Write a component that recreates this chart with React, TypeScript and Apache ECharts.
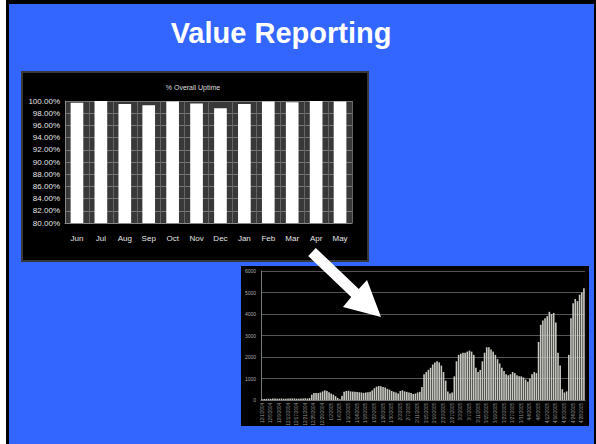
import React, { useEffect, useRef } from "react";
import * as echarts from "echarts";

const pageTitle = "Value Reporting";
const uptimeTitle = "% Overall Uptime";
const uptimeMonths = ["Jun", "Jul", "Aug", "Sep", "Oct", "Nov", "Dec", "Jan", "Feb", "Mar", "Apr", "May"];
const uptimeValues = [99.7, 100, 99.5, 99.3, 99.9, 99.6, 98.8, 99.5, 99.9, 99.8, 100, 99.9];
const uptimeMin = 80;
const uptimeMax = 100;
const uptimeStep = 2;

const volumeMin = 0;
const volumeMax = 6000;
const volumeStep = 1000;
const volumeValues = [
  40, 50, 55, 60, 55, 65, 70, 60, 65, 70, 60, 55, 65, 70, 75, 70, 65, 60, 70, 75, 80, 70, 90,
  250, 320, 330, 320, 350, 400, 450, 420, 360, 300, 250, 180, 100,
  40,
  200, 380, 420, 430, 400, 390, 380, 370, 360, 350, 330, 350, 360, 380,
  450, 550, 620, 650, 640, 600, 580, 520,
  480, 420, 380, 350, 300, 420, 450, 400, 380, 350, 330, 280, 300, 350, 380,
  600, 1200, 1300, 1400, 1500, 1650, 1750, 1800, 1750, 1600, 1300, 900, 400,
  300, 350, 1100,
  1800, 2100, 2150, 2200, 2200, 2250, 2300, 2250, 2100,
  1500, 1300, 1400, 1800, 2200, 2450,
  2450, 2350, 2250, 2100, 1900, 1700, 1500, 1350,
  1200, 1150, 1200, 1300, 1250, 1150, 1100, 1100, 1050, 950, 850,
  1000, 1200, 1300, 1250, 2700,
  3500, 3700, 3800, 3900, 4100, 4000, 4050, 3600,
  2200, 1600, 500, 350,
  400, 2100, 3800, 4500, 4700, 4600, 4900, 5000, 5200,
];
// unreadable day labels under the second chart
const volumeStart = new Date(2004, 11, 1);
const volumeLabels = volumeValues.map((_, i) => {
  const d = new Date(volumeStart.getTime() + i * 86400000);
  return `${d.getMonth() + 1}/${d.getDate()}/${d.getFullYear()}`;
});

const FONT = "'Liberation Sans', Arial, sans-serif";

export default function App() {
  const ref = useRef<HTMLDivElement>(null);
  useEffect(() => {
    if (!ref.current) return;
    const chart = echarts.init(ref.current, undefined, { renderer: "svg" });
    const option: any = {
      animation: false,
      backgroundColor: "#ffffff",
      textStyle: { fontFamily: FONT },
      graphic: [
        { type: "rect", z: 0, silent: true, shape: { x: 6, y: 0, width: 590, height: 444 }, style: { fill: "#000" } },
        { type: "rect", z: 1, silent: true, shape: { x: 9, y: 4, width: 585, height: 440 }, style: { fill: "#3366ff" } },
        { type: "rect", z: 2, silent: true, shape: { x: 22, y: 72, width: 346, height: 189 }, style: { fill: "#000", stroke: "#383838", lineWidth: 2 } },
        { type: "rect", z: 3, silent: true, shape: { x: 65, y: 101, width: 287, height: 122 }, style: { fill: "#383838" } },
        { type: "rect", z: 2, silent: true, shape: { x: 241, y: 266, width: 348, height: 160 }, style: { fill: "#000" } },
        {
          type: "text", z: 12, x: 281, y: 33,
          style: { text: pageTitle, fill: "#fff", fontSize: 29, fontWeight: "bold", fontFamily: FONT, textAlign: "center", textVerticalAlign: "middle" },
        },
        {
          type: "text", z: 12, x: 193, y: 87,
          style: { text: uptimeTitle, fill: "#dcdcdc", fontSize: 7, fontFamily: FONT, textAlign: "center", textVerticalAlign: "middle" },
        },
        {
          type: "polygon", z: 20, silent: true,
          shape: { points: [[315.8, 248], [358.8, 289], [367, 280], [381, 317], [343, 307], [351.2, 297], [308.2, 256]] },
          style: { fill: "#fff" },
        },
      ],
      grid: [
        { left: 65, top: 101, width: 287, height: 122 },
        { left: 261, top: 271, width: 324, height: 129 },
      ],
      xAxis: [
        {
          gridIndex: 0, type: "category", data: uptimeMonths, z: 10,
          axisLine: { lineStyle: { color: "#888" } }, axisTick: { show: false },
          axisLabel: { color: "#e4e4e4", fontSize: 8, margin: 11, fontFamily: FONT },
          splitLine: { show: true, lineStyle: { color: "#666" } },
        },
        {
          gridIndex: 1, type: "category", data: volumeLabels, z: 10,
          axisLine: { lineStyle: { color: "#777" } }, axisTick: { show: false },
          axisLabel: { rotate: 90, interval: 3, fontSize: 4.5, color: "#9a9a9a", margin: 3, fontFamily: FONT },
          splitLine: { show: false },
        },
      ],
      yAxis: [
        {
          gridIndex: 0, type: "value", min: uptimeMin, max: uptimeMax, interval: uptimeStep, z: 10,
          axisLine: { show: true, lineStyle: { color: "#888" } }, axisTick: { show: false },
          axisLabel: { color: "#e4e4e4", fontSize: 8, margin: 5, fontFamily: FONT, formatter: (v: number) => v.toFixed(2) + "%" },
          splitLine: { lineStyle: { color: "#777" } },
        },
        {
          gridIndex: 1, type: "value", min: volumeMin, max: volumeMax, interval: volumeStep, z: 10,
          axisLine: { show: true, lineStyle: { color: "#777" } }, axisTick: { show: false },
          axisLabel: { color: "#aaa", fontSize: 5, margin: 5, fontFamily: FONT, formatter: (v: number) => String(v) },
          splitLine: { lineStyle: { color: "#555" } },
        },
      ],
      series: [
        {
          type: "bar", xAxisIndex: 0, yAxisIndex: 0, data: uptimeValues, z: 11,
          barWidth: "53%", itemStyle: { color: "#ffffff" },
        },
        {
          type: "bar", xAxisIndex: 1, yAxisIndex: 1, data: volumeValues, z: 11,
          barCategoryGap: "25%", itemStyle: { color: "#c8c8c2" },
        },
      ],
    };
    chart.setOption(option);
    return () => chart.dispose();
  }, []);
  return <div ref={ref} style={{ position: "fixed", left: 0, top: 0, width: 596, height: 444 }} />;
}
